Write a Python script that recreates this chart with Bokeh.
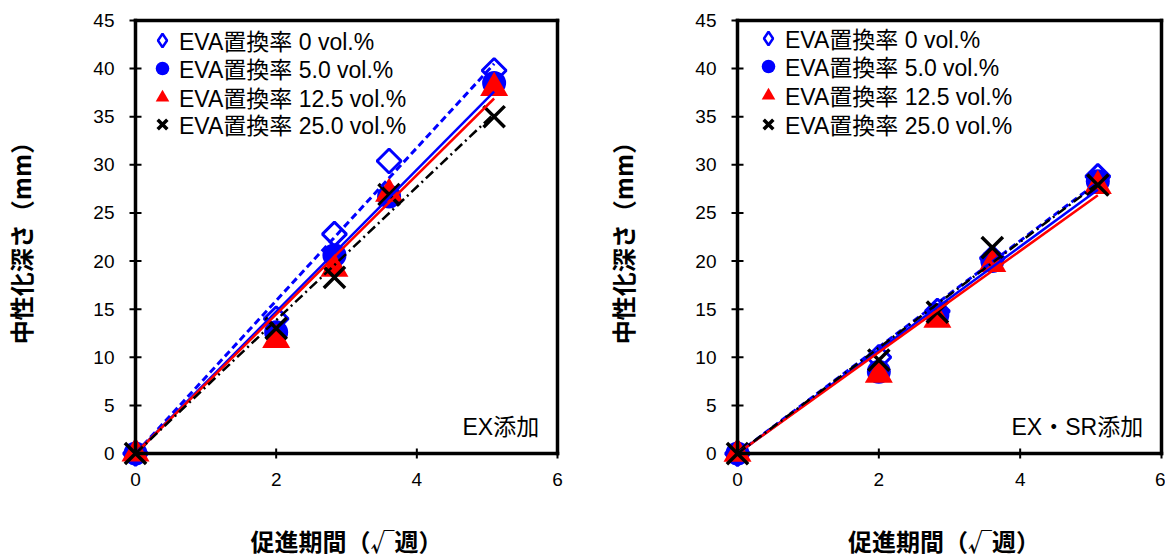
import numpy as np
from bokeh.plotting import figure
from bokeh.models import Range1d, FixedTicker, LinearAxis, Legend, LegendItem, Label
from bokeh.layouts import row
from bokeh.embed import file_html
from bokeh.resources import INLINE

# ---- data ----
weeks = [0, 4, 8, 13, 26]                      # 促進期間 (週)
series_labels = ["EVA置換率 0 vol.%", "EVA置換率 5.0 vol.%",
                 "EVA置換率 12.5 vol.%", "EVA置換率 25.0 vol.%"]
# EX添加
ex_0 = [0, 14.0, 22.8, 30.4, 39.8]
ex_5 = [0, 12.6, 20.6, 26.7, 38.5]
ex_12_5 = [0, 11.8, 19.2, 27.0, 38.0]
ex_25 = [0, 13.0, 18.3, 26.9, 35.0]
# EX・SR添加
sr_0 = [0, 10.0, 14.8, 20.3, 28.8]
sr_5 = [0, 8.5, 14.4, 20.0, 28.3]
sr_12_5 = [0, 8.2, 13.9, 19.7, 27.8]
sr_25 = [0, 9.7, 14.7, 21.4, 27.9]
x_ticks = [0, 2, 4, 6]
y_ticks = [0, 5, 10, 15, 20, 25, 30, 35, 40, 45]
panel_notes = ["EX添加", "EX・SR添加"]
x_title = "促進期間（√週）"
y_title = "中性化深さ（mm）"

x_vals = np.sqrt(np.array(weeks, dtype=float))

LAT = "Liberation Sans"
MIX = "Liberation Sans, Noto Sans CJK JP"
CJK = "Noto Sans CJK JP"
BLUE = "#0000FF"
RED = "#FF0000"


def line_axis(bnds, loc):
    ax = LinearAxis(ticker=FixedTicker(ticks=[]), bounds=bnds, fixed_location=loc)
    ax.axis_line_width = 3.5
    ax.axis_line_cap = "square"
    ax.major_tick_out = 0
    ax.major_tick_in = 0
    ax.minor_tick_out = 0
    ax.minor_tick_in = 0
    ax.major_label_standoff = 0
    return ax


def label_axis(ticks, title, standoff, title_standoff):
    ax = LinearAxis(ticker=FixedTicker(ticks=ticks), axis_label=title)
    ax.axis_line_color = None
    ax.major_tick_line_color = None
    ax.major_tick_out = 0
    ax.major_tick_in = 0
    ax.minor_tick_out = 0
    ax.minor_tick_in = 0
    ax.major_label_standoff = standoff
    ax.major_label_text_font = LAT
    ax.major_label_text_font_size = "19px"
    ax.major_label_text_color = "black"
    ax.axis_label_standoff = title_standoff
    ax.axis_label_text_font = CJK
    ax.axis_label_text_font_style = "bold"
    ax.axis_label_text_font_size = "24px"
    ax.axis_label_text_color = "black"
    return ax


def make_panel(series, note, width, bl, br, bt, pad_r, leg_vx, leg_rows):
    H = 560
    bb = 92
    pad_l = pad_b = pad_t = 15
    frame_w = width - bl - br
    frame_h = H - bt - bb
    xmax, ymax = x_ticks[-1], y_ticks[-1]
    ppx = (frame_w - pad_l - pad_r) / xmax
    ppy = (frame_h - pad_b - pad_t) / ymax
    p = figure(width=width, height=H,
               x_range=Range1d(-pad_l / ppx, xmax + pad_r / ppx),
               y_range=Range1d(-pad_b / ppy, ymax + pad_t / ppy),
               output_backend="svg", toolbar_location=None,
               x_axis_location=None, y_axis_location=None,
               min_border_left=bl, min_border_right=br, min_border_top=bt, min_border_bottom=bb)
    p.outline_line_color = None
    p.background_fill_color = "white"
    p.border_fill_color = "white"
    p.grid.visible = False

    # tick labels + axis titles at the frame edges
    p.add_layout(label_axis(x_ticks, x_title, 4, 34), "below")
    p.add_layout(label_axis(y_ticks, y_title, 6, 52), "left")

    # the four sides of the box, at the data limits
    p.add_layout(line_axis((0, xmax), 0), "above")
    p.add_layout(line_axis((0, xmax), ymax), "above")
    p.add_layout(line_axis((0, ymax), 0), "right")
    p.add_layout(line_axis((0, ymax), xmax), "right")

    # tick marks on the origin axes
    p.scatter(x_ticks, np.full(len(x_ticks), y_ticks[0]), marker="dash", angle=np.pi / 2,
              size=10, line_color="black", line_width=2)
    p.scatter(np.full(len(y_ticks), x_ticks[0]), y_ticks, marker="dash",
              size=12, line_color="black", line_width=2)

    v0, v5, v12, v25 = series
    p.scatter(x_vals, v0, marker="square", angle=np.pi / 4, size=17,
              line_color=BLUE, line_width=3, fill_color="white")
    r1 = p.scatter(x_vals, v5, marker="circle", size=24, fill_color=BLUE, line_color=None)
    r2 = p.scatter(x_vals, v12, marker="triangle", size=28, fill_color=RED, line_color=None)
    r3 = p.scatter(x_vals, v25, marker="x", size=30, line_color="black", line_width=3.5)
    # legend-only glyph for the hollow diamond
    r0 = p.scatter(x_vals, v0, marker="diamond", size=17,
                   line_color=BLUE, line_width=2.5, fill_color="white", visible=False)

    styles = [(BLUE, 3, "7 4"), (BLUE, 2.5, "solid"), (RED, 2.5, "solid"), ("black", 2.5, "10 4 2 4")]
    for vals, (c, w, d) in zip(series, styles):
        yv = np.array(vals, dtype=float)
        a = float(np.sum(x_vals * yv) / np.sum(x_vals ** 2))
        xe = np.array([0.0, x_vals.max()])
        p.line(xe, a * xe, line_color=c, line_width=w, line_dash=d)

    # one legend per row so that the row pitch matches the reference
    for lbl, r, cy in zip(series_labels, [r0, r1, r2, r3], leg_rows):
        vy = (H - bb) - cy - 17
        leg = Legend(items=[LegendItem(label=lbl, renderers=[r])], location=(leg_vx, vy),
                     padding=0, margin=0, spacing=0,
                     glyph_height=34, glyph_width=34, label_standoff=0, label_height=20,
                     label_text_font=MIX, label_text_font_size="23px",
                     label_text_color="black",
                     border_line_color=None, background_fill_alpha=0, inactive_fill_alpha=0)
        p.add_layout(leg)

    p.add_layout(Label(x=5.74, y=2.8, text=note, text_align="right", text_baseline="middle",
                       text_font=MIX, text_font_size="23px", text_color="black"))
    return p


p1 = make_panel([ex_0, ex_5, ex_12_5, ex_25], panel_notes[0], 600, 120, 28, 5, 15, 25,
                [40, 68, 97, 124])
p2 = make_panel([sr_0, sr_5, sr_12_5, sr_25], panel_notes[1], 565, 122, 0, 3, 4, 29,
                [38, 66, 95, 124])

layout = row(p1, p2)
open("out.html", "w").write(file_html(layout, INLINE))
